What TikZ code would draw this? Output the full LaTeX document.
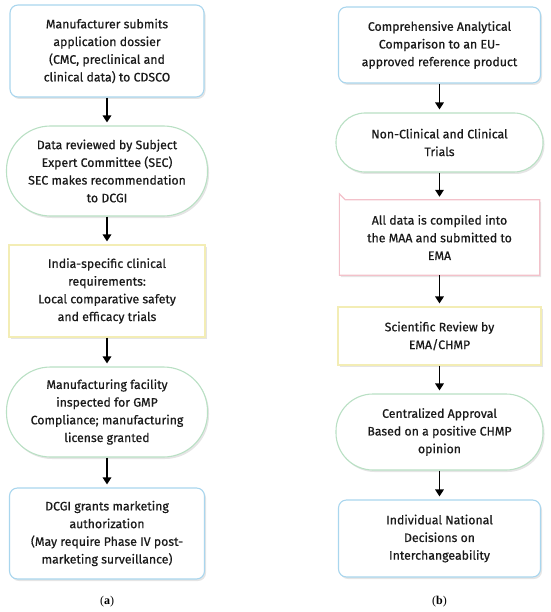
\documentclass[tikz,border=0pt]{standalone}
\usepackage{fontspec}
\setmainfont{Fira Sans}[FakeBold=0.6]
\newfontfamily\capfont{Liberation Serif}
\usetikzlibrary{arrows.meta,shadows}
\definecolor{bblue}{HTML}{A9D6EE}
\definecolor{bgreen}{HTML}{B9E0C4}
\definecolor{byellow}{HTML}{F3EDB5}
\definecolor{bpink}{HTML}{F3C1CA}
\definecolor{txt}{HTML}{1A1A1A}
\tikzset{
  base/.style={draw, line width=1.1pt, fill=white, text=txt, align=center,
    font=\fontsize{12.3}{17.7}\selectfont, inner sep=0pt,
    drop shadow={shadow xshift=1.5pt, shadow yshift=-2pt, fill=black, opacity=0.10}},
  bluebox/.style={base, draw=bblue, rounded corners=8pt},
  greenstad/.style={base, draw=bgreen},
  yellowbox/.style={base, draw=byellow},
  pinkbox/.style={draw=none, fill=none, text=txt, align=center,
    font=\fontsize{12.3}{17.7}\selectfont, inner sep=0pt},
  arr/.style={-{Triangle[length=7pt,width=8.5pt]}, line width=1.6pt, black, shorten >=3pt},
  caplab/.style={font=\capfont\fontsize{12}{14}\selectfont, text=black}
}
\begin{document}
\begin{tikzpicture}[x=1pt,y=-1pt]
\useasboundingbox (0,0) rectangle (550,612);
% left column
\node[bluebox, minimum width=194pt, minimum height=92pt] (a1) at (107,51)
  {Manufacturer submits\\application dossier\\(CMC, preclinical and\\clinical data) to CDSCO};
\node[greenstad, rounded corners=44pt, minimum width=201pt, minimum height=90pt] (a2) at (107,171)
  {Data reviewed by Subject\\Expert Committee (SEC)\\SEC makes recommendation\\to DCGI};
\node[yellowbox, minimum width=196pt, minimum height=92pt] (a3) at (107,291)
  {India-specific clinical\\requirements:\\Local comparative safety\\and efficacy trials};
\node[greenstad, rounded corners=44pt, minimum width=201pt, minimum height=90pt] (a4) at (107,412)
  {Manufacturing facility\\inspected for GMP\\Compliance; manufacturing\\license granted};
\node[bluebox, minimum width=195pt, minimum height=91pt] (a5) at (107,533.5)
  {DCGI grants marketing\\authorization\\(May require Phase IV post-\\marketing surveillance)};
\node[caplab] (la) at (107,602) {(\textbf{a})};
% right column
\node[bluebox, minimum width=202pt, minimum height=76pt] (b1) at (439.5,45)
  {Comprehensive Analytical\\Comparison to an EU-\\approved reference product};
\node[greenstad, rounded corners=29pt, minimum width=207pt, minimum height=59pt] (b2) at (439.5,142.5)
  {Non-Clinical and Clinical\\Trials};
\node[pinkbox, minimum width=200pt, minimum height=75pt] (b3) at (439.5,237.5)
  {\phantom{x}};
\fill[black, opacity=0.10] ([shift={(7.5,2)}]b3.north west) -- ([shift={(1.5,2)}]b3.north east)
  -- ([shift={(1.5,2)}]b3.south east) -- ([shift={(1.5,2)}]b3.south west)
  -- ([shift={(1.5,8)}]b3.north west) -- cycle;
\draw[draw=bpink, line width=1.1pt, fill=white] ([xshift=6pt]b3.north west) -- (b3.north east)
  -- (b3.south east) -- (b3.south west) -- ([yshift=6pt]b3.north west) -- cycle;
\node[pinkbox] (b3t) at (b3.center)
  {All data is compiled into\\the MAA and submitted to\\EMA};
\node[yellowbox, minimum width=203pt, minimum height=58pt] (b4) at (439.5,336)
  {Scientific Review by\\EMA/CHMP};
\node[greenstad, rounded corners=37pt, minimum width=207pt, minimum height=76pt] (b5) at (439.5,432)
  {Centralized Approval\\Based on a positive CHMP\\opinion};
\node[bluebox, minimum width=202pt, minimum height=77pt] (b6) at (439.5,538.5)
  {Individual National\\Decisions on\\Interchangeability};
\node[caplab] (lb) at (439.5,602) {(\textbf{b})};
% arrows
\draw[arr] (a1) -- (a2);
\draw[arr] (a2) -- (a3);
\draw[arr] (a3) -- (a4);
\draw[arr] (a4) -- (a5);
\draw[arr] (b1) -- (b2);
\draw[arr] (b2) -- (b3);
\draw[arr] (b3) -- (b4);
\draw[arr] (b4) -- (b5);
\draw[arr] (b5) -- (b6);
\end{tikzpicture}
\end{document}
